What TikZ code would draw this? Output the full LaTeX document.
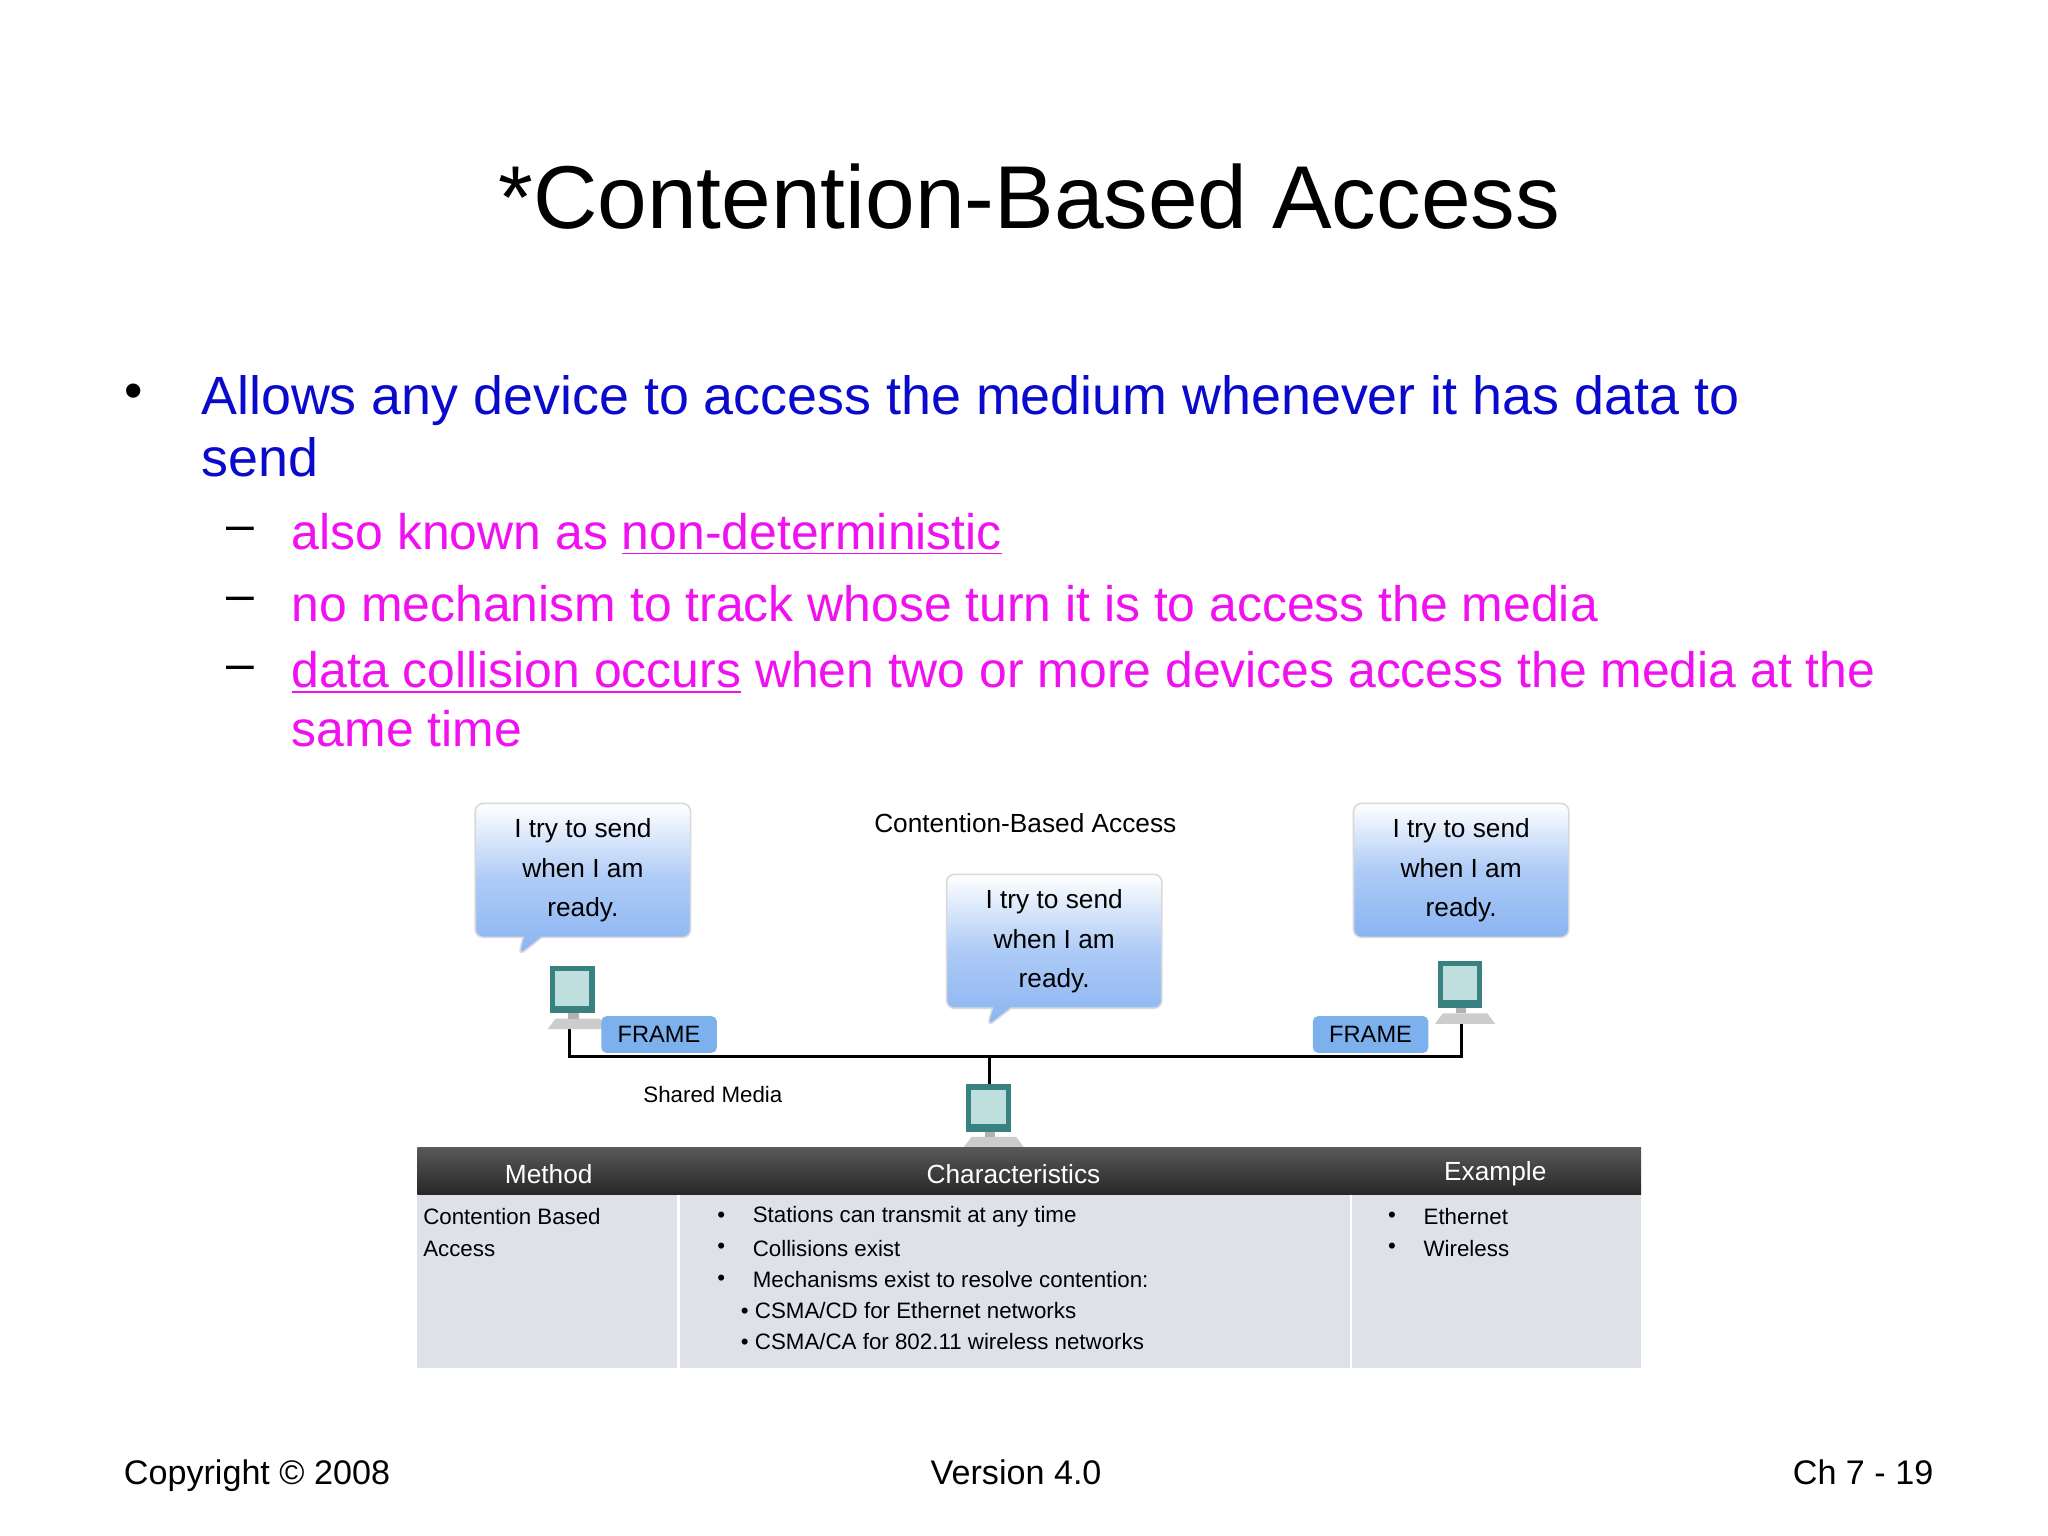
\documentclass[tikz,border=0pt]{standalone}
\usepackage{fontspec}
\setmainfont{Liberation Sans}
\usetikzlibrary{shapes.callouts}
\definecolor{bblue}{HTML}{0A0ACC}
\definecolor{pink}{HTML}{F010F0}
\definecolor{bub}{HTML}{8AB4F2}
\definecolor{frm}{HTML}{7DB1EE}
\definecolor{tbody}{HTML}{DEE1E7}
\tikzset{
 bubblebase/.style={rounded corners=3pt,draw=gray!30,line width=0.6pt,top color=white,bottom color=bub,middle color=bub!70,minimum width=82pt,minimum height=51pt,align=center,font=\fontsize{10}{15}\selectfont},
 bubble/.style={rectangle callout,bubblebase},
 frame/.style={fill=frm,rounded corners=2pt,minimum width=44pt,minimum height=14pt,font=\fontsize{9}{10}\selectfont,inner sep=0},
 small/.style={font=\fontsize{8.5}{12}\selectfont,anchor=west,inner sep=0},
}
\newcommand{\pc}[2]{%
 \fill[gray!40] (#1-14,#2+20) -- (#1+20,#2+20) -- (#1+26,#2+28) -- (#1-20,#2+28) -- cycle;
 \fill[teal!55!gray] (#1-18,#2-20) rectangle (#1+16,#2+16);
 \fill[teal!25] (#1-14,#2-16) rectangle (#1+12,#2+10);
 \fill[gray!60] (#1-4,#2+16) rectangle (#1+4,#2+20);}
\begin{document}
\begin{tikzpicture}[x=0.5pt,y=-0.5pt]
\useasboundingbox (0,0) rectangle (1560,1170);
\fill[white] (0,0) rectangle (1560,1170);
\node (title) at (784,150) {\fontsize{34}{40}\selectfont *Contention-Based Access};
\node (b1) at (102,302) {\fontsize{20}{20}\selectfont •};
\node[anchor=north west,inner sep=0,align=left,text=bblue,font=\fontsize{20.5}{23.5}\selectfont] (t1) at (153,286) {Allows any device to access the medium whenever it has data to\\send};
\foreach \y/\n in {407/d1,460/d2,513/d3}{\node (\n) at (183,\y) {\fontsize{19}{19}\selectfont –};}
\node[anchor=west,inner sep=0,text=pink] (p1) at (222,407) {\fontsize{19}{19}\selectfont also known as \underline{non-deterministic}};
\node[anchor=west,inner sep=0,text=pink] (p2) at (222,460) {\fontsize{19}{19}\selectfont no mechanism to track whose turn it is to access the media};
\node[anchor=north west,inner sep=0,text=pink,align=left,font=\fontsize{19}{22.5}\selectfont] (p3) at (222,496) {\underline{data collision occurs} when two or more devices access the media at the\\same time};
% diagram
\node (cba) at (781,627) {\fontsize{10}{12}\selectfont Contention-Based Access};
\node[bubble,callout absolute pointer={(395,728)}] (bl) at (444,663) {I try to send\\when I am\\ready.};
\node[bubble,callout absolute pointer={(752,782)}] (bm) at (803,717) {I try to send\\when I am\\ready.};
\node[bubblebase,rectangle] (br) at (1113,663) {I try to send\\when I am\\ready.};
\coordinate (c1) at (434,780); \coordinate (c2) at (434,805); \coordinate (c3) at (1113,805); \coordinate (c4) at (1113,775);
\coordinate (m1) at (754,805); \coordinate (m2) at (754,828);
\draw[line width=1.2pt] (c1) -- (c2) -- (c3) -- (c4);
\draw[line width=1.2pt] (m1) -- (m2);
\pc{437}{756}\pc{754}{846}\pc{1113}{752}
\node[frame] (f1) at (502,788) {FRAME};
\node[frame] (f2) at (1044,788) {FRAME};
\node (sm) at (543,834) {\fontsize{8.5}{10}\selectfont Shared Media};
% table
\shade[top color=gray!70!black,bottom color=black!85] (318,874) rectangle (1250,910);
\fill[tbody] (318,910) rectangle (1250,1042);
\draw[white,line width=1pt] (517,910) -- (517,1042) (1029,910) -- (1029,1042);
\node[text=white] (h1) at (418,894) {\fontsize{10}{12}\selectfont Method};
\node[text=white] (h2) at (772,894) {\fontsize{10}{12}\selectfont Characteristics};
\node[text=white] (h3) at (1139,894) {\fontsize{10}{12}\selectfont Example};
\node[small] (r1) at (322,927) {Contention Based};
\node[small] (r2) at (322,951) {Access};
\foreach \y/\t in {927/Stations can transmit at any time,951/Collisions exist,975/Mechanisms exist to resolve contention:}{
 \node[small] at (546,\y) {•}; \node[small] at (573,\y) {\t};}
\node[small] (s1) at (564,998) {• CSMA/CD for Ethernet networks};
\node[small] (s2) at (564,1022) {• CSMA/CA for 802.11 wireless networks};
\node[small] at (1057,927) {•}; \node[small] (e1) at (1084,927) {Ethernet};
\node[small] at (1057,951) {•}; \node[small] (e2) at (1084,951) {Wireless};
% footer
\node[anchor=base west,inner sep=0] (fl) at (94,1131) {\fontsize{13}{13}\selectfont Copyright © 2008};
\node[anchor=base,inner sep=0] (fc) at (774,1131) {\fontsize{13}{13}\selectfont Version 4.0};
\node[anchor=base east,inner sep=0] (fr) at (1473,1131) {\fontsize{13}{13}\selectfont Ch 7 - 19};
\end{tikzpicture}
\end{document}
